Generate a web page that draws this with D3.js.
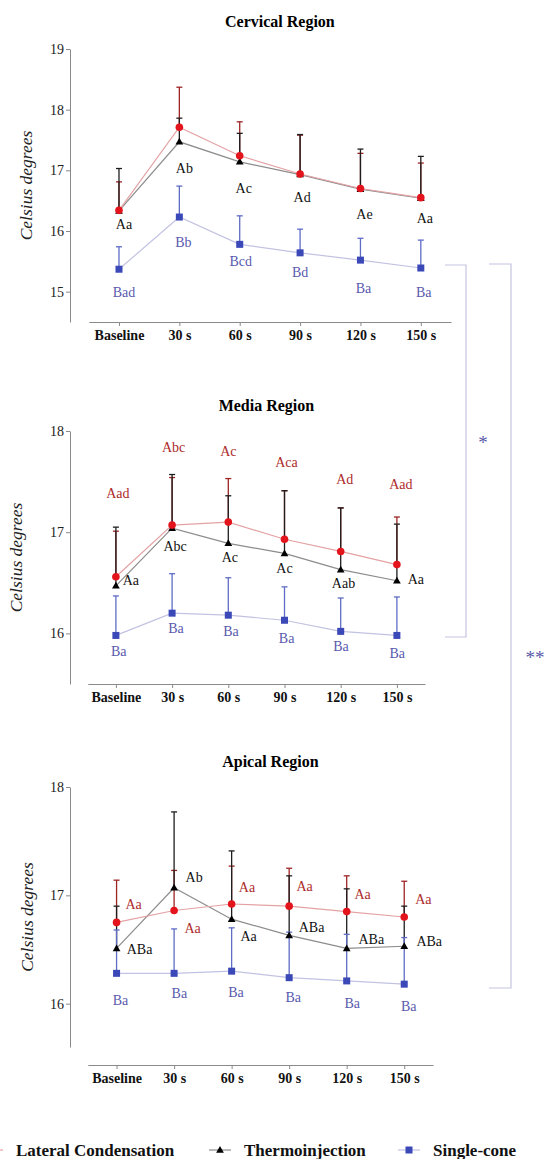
<!DOCTYPE html>
<html>
<head>
<meta charset="utf-8">
<script src="https://cdn.jsdelivr.net/npm/d3@7"></script>
<style>
  body { margin: 0; background: #fff; }
  svg { display: block; }
  text { font-family: "Liberation Serif", "Times New Roman", serif; }
</style>
</head>
<body>
<div id="chart"></div>
<script>
// categories and tick labels
var times = ["Baseline", "30 s", "60 s", "90 s", "120 s", "150 s"];

// Cervical region
var cerLateral = [16.34, 17.71, 17.24, 16.94, 16.70, 16.55];
var cerLateralUp = [16.81, 18.37, 17.80, 17.58, 17.28, 17.12];
var cerThermo = [16.33, 17.47, 17.14, 16.93, 16.69, 16.54];
var cerThermoUp = [17.03, 17.86, 17.61, 17.59, 17.35, 17.23];
var cerSingle = [15.37, 16.23, 15.78, 15.64, 15.52, 15.39];
var cerSingleUp = [15.74, 16.74, 16.25, 16.03, 15.88, 15.85];
var cerThermoTxt = ["Aa", "Ab", "Ac", "Ad", "Ae", "Aa"];
var cerSingleTxt = ["Bad", "Bb", "Bcd", "Bd", "Ba", "Ba"];

// Media region
var medLateral = [16.56, 17.07, 17.10, 16.93, 16.81, 16.68];
var medLateralUp = [17.01, 17.54, 17.53, 17.41, 17.24, 17.15];
var medThermo = [16.47, 17.04, 16.89, 16.79, 16.63, 16.52];
var medThermoUp = [17.05, 17.57, 17.36, 17.41, 17.24, 17.08];
var medSingle = [15.98, 16.20, 16.18, 16.13, 16.02, 15.98];
var medSingleUp = [16.37, 16.59, 16.55, 16.46, 16.35, 16.36];
var medLateralTxt = ["Aad", "Abc", "Ac", "Aca", "Ad", "Aad"];
var medThermoTxt = ["Aa", "Abc", "Ac", "Ac", "Aab", "Aa"];
var medSingleTxt = ["Ba", "Ba", "Ba", "Ba", "Ba", "Ba"];

// Apical region
var apiLateral = [16.75, 16.86, 16.92, 16.90, 16.85, 16.80];
var apiLateralUp = [17.14, 17.23, 17.27, 17.25, 17.18, 17.13];
var apiThermo = [16.51, 17.07, 16.78, 16.63, 16.51, 16.53];
var apiThermoUp = [16.90, 17.77, 17.41, 17.18, 17.06, 16.90];
var apiSingle = [16.28, 16.28, 16.30, 16.24, 16.21, 16.18];
var apiSingleUp = [16.68, 16.69, 16.70, 16.66, 16.64, 16.61];
var apiLateralTxt = ["Aa", "Aa", "Aa", "Aa", "Aa", "Aa"];
var apiThermoTxt = ["ABa", "Ab", "Aa", "ABa", "ABa", "ABa"];
var apiSingleTxt = ["Ba", "Ba", "Ba", "Ba", "Ba", "Ba"];

var seriesNames = ["Lateral Condensation", "Thermoinjection", "Single-cone"];

// colours
var col = {
  lat: { mark: "#e3141c", line: "#e4a2a4", err: "#9e2424", txt: "#ad2b2b" },
  thr: { mark: "#000000", line: "#8c8c8c", err: "#1e1e1e", txt: "#111111" },
  sgl: { mark: "#3a48b8", line: "#c2c2e2", err: "#5e6cc6", txt: "#5a5aae" }
};

var W = 544, H = 1159;
var svg = d3.select("#chart").append("svg")
  .attr("width", W).attr("height", H);

// label offsets (px from the marker) for each panel
var panels = [
  {
    title: "Cervical Region", titleY: 21,
    xr: [88.8, 451], yd: [14.5, 19], yr: [322, 49], xAxisY: 322,
    ticks: [15, 16, 17, 18, 19], ylabX: 26,
    lat: [cerLateral, cerLateralUp, null, null],
    thr: [cerThermo, cerThermoUp, cerThermoTxt,
      [[5, 13], [5, 26], [4, 26], [2, 23], [4, 25], [4, 20]]],
    sgl: [cerSingle, cerSingleUp, cerSingleTxt,
      [[5, 23], [4, 25], [1, 17], [0, 19], [3, 28], [3, 24]]]
  },
  {
    title: "Media Region", titleY: 405,
    xr: [87.8, 425], yd: [15.5, 18], yr: [684, 431], xAxisY: 684,
    ticks: [16, 17, 18], ylabX: 16,
    lat: [medLateral, medLateralUp, medLateralTxt,
      [[2, -84], [1.5, -78], [0, -71], [2, -77], [4, -72], [4, -80]]],
    thr: [medThermo, medThermoUp, medThermoTxt,
      [[15, -5.5], [3, 17.5], [1.5, 13.4], [0, 14.2], [2.8, 13.1], [19, -1.8]]],
    sgl: [medSingle, medSingleUp, medSingleTxt,
      [[2.8, 15.6], [3.9, 15.1], [2.7, 15.5], [2.1, 18.1], [0.3, 14.3], [0.4, 17.3]]]
  },
  {
    title: "Apical Region", titleY: 761,
    xr: [87.8, 433], yd: [15.6, 18], yr: [1047, 787], xAxisY: 1065,
    ticks: [16, 17, 18], ylabX: 27,
    lat: [apiLateral, apiLateralUp, apiLateralTxt,
      [[17, -18], [18.5, 18], [15.4, -17], [15.4, -20.5], [15.9, -17.6], [19.1, -17.7]]],
    thr: [apiThermo, apiThermoUp, apiThermoTxt,
      [[23, 1], [20, -11], [17, 17], [22.4, -8], [24.6, -9.4], [25, -5.6]]],
    sgl: [apiSingle, apiSingleUp, apiSingleTxt,
      [[4, 26.7], [5.3, 20], [4.4, 21], [4, 19], [5.5, 22.4], [4.5, 21.5]]]
  }
];

function marker(g, kind, x, y, c) {
  if (kind == "lat") {
    g.append("circle").attr("cx", x).attr("cy", y).attr("r", 3.8).attr("fill", c);
  } else if (kind == "thr") {
    g.append("path").attr("d", d3.symbol().type(d3.symbolTriangle).size(26)())
      .attr("transform", "translate(" + x + "," + (y + 0.5) + ")").attr("fill", c);
  } else {
    g.append("rect").attr("x", x - 3.5).attr("y", y - 3.5).attr("width", 7).attr("height", 7).attr("fill", c);
  }
}

panels.forEach(function (p) {
  var g = svg.append("g");
  var x = d3.scalePoint().domain(times).range(p.xr).padding(0.5);
  var y = d3.scaleLinear().domain(p.yd).range(p.yr);

  g.append("text")
    .attr("x", (p.xr[0] + p.xr[1]) / 2 + 10)
    .attr("y", p.titleY)
    .attr("dy", "0.35em")
    .attr("text-anchor", "middle")
    .style("font-weight", "bold")
    .style("font-size", "16px")
    .text(p.title);

  // y axis
  var ya = g.append("g")
    .attr("transform", "translate(70,0)")
    .call(d3.axisLeft(y).tickValues(p.ticks).tickSize(4).tickSizeOuter(0).tickFormat(d3.format("d")));
  ya.select(".domain").attr("stroke", "#8a8a8a");
  ya.selectAll(".tick line").attr("stroke", "#8a8a8a");
  ya.selectAll(".tick text").attr("x", -6)
    .style("font-family", "'Liberation Serif', serif").style("font-size", "14px").attr("fill", "#222");

  g.append("text")
    .attr("transform", "translate(" + p.ylabX + "," + ((p.yr[0] + p.yr[1]) / 2) + ") rotate(-90)")
    .attr("text-anchor", "middle")
    .attr("dy", "0.35em")
    .style("font-style", "italic")
    .style("font-size", "17.5px")
    .attr("fill", "#222")
    .text("Celsius degrees");

  // x axis
  var xa = g.append("g")
    .attr("transform", "translate(0," + p.xAxisY + ")")
    .call(d3.axisBottom(x).tickSize(4).tickSizeOuter(0));
  xa.select(".domain").attr("stroke", "#8a8a8a");
  xa.selectAll(".tick line").attr("stroke", "#8a8a8a");
  xa.selectAll(".tick text").attr("y", 8)
    .style("font-family", "'Liberation Serif', serif").style("font-size", "14px")
    .style("font-weight", "bold").attr("fill", "#111");

  var order = ["sgl", "thr", "lat"];
  var line = d3.line().x(function (d, i) { return x(times[i]); }).y(function (d) { return y(d); });

  // connecting lines
  order.forEach(function (k) {
    g.append("path").datum(p[k][0])
      .attr("d", line).attr("fill", "none")
      .attr("stroke", col[k].line).attr("stroke-width", 1.2);
  });

  // error bars (upper only)
  ["lat", "thr", "sgl"].forEach(function (k) {
    var eg = g.append("g").attr("stroke", col[k].err).attr("stroke-width", 1.3);
    p[k][0].forEach(function (m, i) {
      var cx = x(times[i]);
      eg.append("line").attr("x1", cx).attr("x2", cx).attr("y1", y(m)).attr("y2", y(p[k][1][i]));
      eg.append("line").attr("x1", cx - 3).attr("x2", cx + 3).attr("y1", y(p[k][1][i])).attr("y2", y(p[k][1][i]));
    });
  });

  // markers
  order.forEach(function (k) {
    p[k][0].forEach(function (m, i) {
      marker(g, k, x(times[i]), y(m), col[k].mark);
    });
  });

  // letter labels
  order.forEach(function (k) {
    if (!p[k][2]) return;
    p[k][2].forEach(function (t, i) {
      g.append("text")
        .attr("x", x(times[i]) + p[k][3][i][0])
        .attr("y", y(p[k][0][i]) + p[k][3][i][1])
        .attr("dy", "0.35em")
        .attr("text-anchor", "middle")
        .style("font-size", "14px")
        .attr("fill", col[k].txt)
        .text(t);
    });
  });
});

// significance brackets
var br = svg.append("g").attr("stroke", "#c4c4e0").attr("stroke-width", 1.2).attr("fill", "none");
br.append("path").attr("d", "M445,265H466V637H445");
br.append("path").attr("d", "M489,264H511V988H489");
svg.append("text").attr("x", 483).attr("y", 437).attr("dy", "0.62em")
  .attr("text-anchor", "middle").attr("fill", "#5858a8").style("font-size", "19px").text("*");
svg.append("text").attr("x", 535).attr("y", 652).attr("dy", "0.62em")
  .attr("text-anchor", "middle").attr("fill", "#5858a8").style("font-size", "19px").text("**");

// legend
var legX = [-8, 220, 409];
var legKeys = ["lat", "thr", "sgl"];
var lg = svg.append("g");
legKeys.forEach(function (k, i) {
  lg.append("line").attr("x1", legX[i] - 11).attr("x2", legX[i] + 11)
    .attr("y1", 1150).attr("y2", 1150).attr("stroke", col[k].line).attr("stroke-width", 1.2);
  marker(lg, k, legX[i], 1150, col[k].mark);
  lg.append("text").attr("x", legX[i] + 24).attr("y", 1150).attr("dy", "0.35em")
    .style("font-weight", "bold").style("font-size", "17px").attr("fill", "#111")
    .text(seriesNames[i]);
});
</script>
</body>
</html>
